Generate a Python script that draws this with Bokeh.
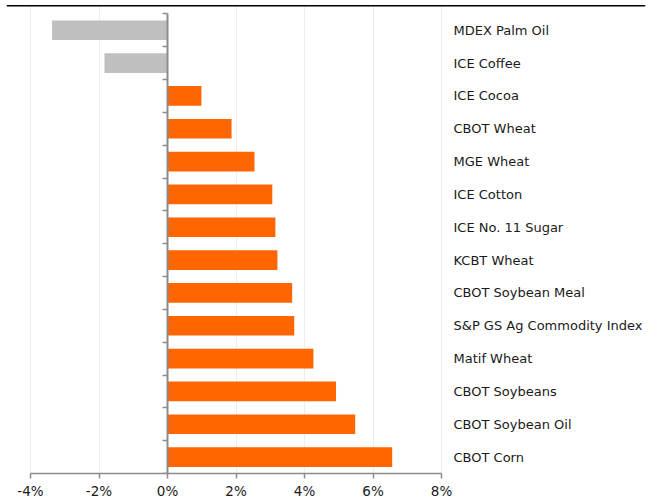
from bokeh.plotting import figure
from bokeh.models import Range1d, FixedTicker, PrintfTickFormatter, ColumnDataSource
from bokeh.core.properties import value
from bokeh.embed import file_html
from bokeh.resources import INLINE

categories = ["MDEX Palm Oil", "ICE Coffee", "ICE Cocoa", "CBOT Wheat", "MGE Wheat",
              "ICE Cotton", "ICE No. 11 Sugar", "KCBT Wheat", "CBOT Soybean Meal",
              "S&P GS Ag Commodity Index", "Matif Wheat", "CBOT Soybeans",
              "CBOT Soybean Oil", "CBOT Corn"]
values = [-3.37, -1.84, 0.99, 1.87, 2.54, 3.06, 3.15, 3.21, 3.64, 3.70, 4.26, 4.92, 5.48, 6.56]
x_ticks = [-4, -2, 0, 2, 4, 6, 8]

ORANGE = "#FF6600"
GREY = "#BFBFBF"
FONT = "DejaVu Sans"

n = len(categories)
idx = list(range(n))
colors = [GREY if v < 0 else ORANGE for v in values]

x_start, x_end = -4.701, 13.956
y_bottom, y_top = n - 0.5, -0.785
rule_y = -0.745

p = figure(width=650, height=501, output_backend="svg", toolbar_location=None,
           x_range=Range1d(x_start, x_end), y_range=Range1d(y_bottom, y_top),
           min_border_left=6, min_border_right=5, min_border_top=4)
p.outline_line_color = None
p.background_fill_color = "white"
p.border_fill_color = "white"

# grid
p.xgrid.ticker = FixedTicker(ticks=[t for t in x_ticks if t != 0])
p.xgrid.grid_line_color = "#EDEDED"
p.xgrid.grid_line_width = 1
p.ygrid.grid_line_color = None

# bars
src = ColumnDataSource(dict(y=idx, v=values, c=colors, name=categories,
                            lx=[8.35] * n))
p.hbar(y="y", left=0, right="v", height=0.6, fill_color="c", line_color=None, source=src)

# labels on the right
p.text(x="lx", y="y", text="name", source=src, text_font=value(FONT),
       text_font_size="13px", text_color="#1a1a1a", text_baseline="middle",
       text_align="left")

# top rule
p.segment(x0=[x_start], x1=[x_end], y0=[rule_y], y1=[rule_y],
          line_color="black", line_width=1.5)

# x axis
xa = p.xaxis[0]
xa.ticker = FixedTicker(ticks=x_ticks)
xa.bounds = (x_ticks[0], x_ticks[-1])
xa.formatter = PrintfTickFormatter(format="%d%%")
xa.axis_line_color = "#8C8C8C"
xa.axis_line_width = 1.5
xa.major_tick_line_color = "#8C8C8C"
xa.major_tick_line_width = 1.5
xa.major_tick_out = 5
xa.major_tick_in = 0
xa.minor_tick_line_color = None
xa.major_label_text_font = FONT
xa.major_label_text_font_size = "13.5px"
xa.major_label_text_color = "#1a1a1a"
xa.major_label_standoff = 4

# y axis at zero
ya = p.yaxis[0]
ya.fixed_location = 0
ya.ticker = FixedTicker(ticks=[i - 0.5 for i in range(n + 1)])
ya.bounds = (-0.5, n - 0.5)
ya.axis_line_color = "#8C8C8C"
ya.axis_line_width = 2
ya.major_tick_line_color = "#8C8C8C"
ya.major_tick_line_width = 1.5
ya.major_tick_out = 5
ya.major_tick_in = 0
ya.minor_tick_line_color = None
ya.major_label_text_font_size = "0px"
ya.major_label_text_color = None

open("out.html", "w").write(file_html(p, INLINE))
